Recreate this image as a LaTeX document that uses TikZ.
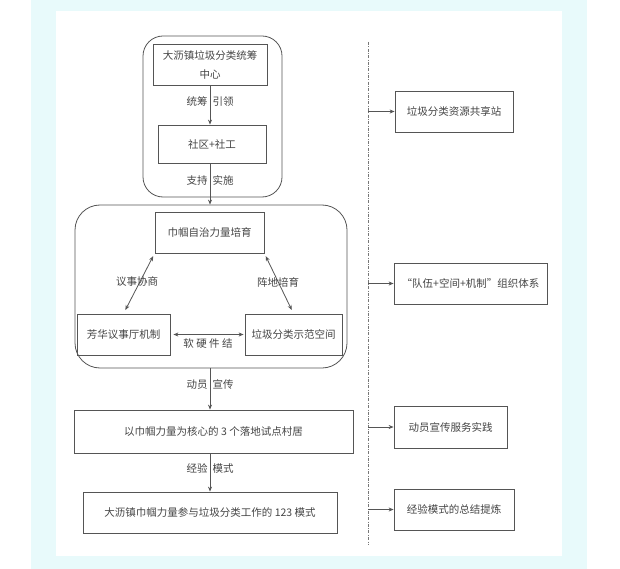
\documentclass[tikz,border=0pt]{standalone}
\usepackage{fontspec}
\setmainfont{Noto Sans CJK SC}
\usetikzlibrary{arrows.meta,calc}
\definecolor{edge}{HTML}{555555}
\definecolor{ink}{HTML}{444444}
\definecolor{sky}{HTML}{E8FAFB}

\begin{document}
\begin{tikzpicture}[x=1pt,y=-1pt,
 box/.style={draw=edge,line width=.8pt,minimum height=41,inner sep=0,align=center,text=ink,font=\fontsize{10.5}{19}\selectfont},
 group/.style={draw=edge,line width=.8pt,inner sep=0,rounded corners=20pt},
 lab/.style={text=ink,inner sep=1pt,font=\fontsize{10.5}{12}\selectfont},
 arr/.style={draw=edge,line width=.8pt,-{Stealth[length=5pt,width=4pt]}},
 dbl/.style={draw=edge,line width=.8pt,{Stealth[length=5pt,width=4pt]}-{Stealth[length=5pt,width=4pt]}}]
 \useasboundingbox (0,0) rectangle (620,569);
 \fill[white] (0,0) rectangle (620,569);
 \fill[sky] (31,0) rectangle (587,569);
 \fill[white] (56,11) rectangle (562,556);

 \node[group,minimum width=139,minimum height=161] (grp1) at (212.5,116.5) {};
 \node[box,minimum width=114] (hub) at (210,65) {大沥镇垃圾分类统筹\\中心};
 \node[box,minimum width=108,minimum height=38] (sq) at (212,144) {社区+社工};
 \node[group,minimum width=272,minimum height=163,rounded corners=25pt] (grp2) at (211,286.5) {};
 \node[box,minimum width=109] (cult) at (209.5,232.5) {巾帼自治力量培育};
 \node[box,minimum width=93] (fh) at (123.5,334.5) {芳华议事厅机制};
 \node[box,minimum width=97] (demo) at (293.5,334.5) {垃圾分类示范空间};
 \node[box,minimum width=279,minimum height=43] (vil) at (213.5,431.5) {以巾帼力量为核心的 3 个落地试点村居};
 \node[box,minimum width=254] (mode) at (210,512.5) {大沥镇巾帼力量参与垃圾分类工作的 123 模式};

 \draw[arr] (hub.south) -- (hub.south |- sq.north);
 \draw[arr] (sq.south -| hub.south) -- (hub.south |- grp2.north);
 \draw[arr] (grp2.south -| hub.south) -- (hub.south |- vil.north);
 \draw[arr] (vil.south -| hub.south) -- (hub.south |- mode.north);
 \node[lab] (l1) at (210,102) {统筹\hspace{5pt}引领};
 \node[lab] (l2) at (210,180) {支持\hspace{5pt}实施};
 \node[lab] (l5) at (210,385) {动员\hspace{5pt}宣传};
 \node[lab] (l6) at (210,468) {经验\hspace{5pt}模式};

 \draw[dbl,shorten <=3pt,shorten >=4pt] (cult.south west) -- (fh.north);
 \draw[dbl,shorten <=3pt,shorten >=4pt] (cult.south east) -- (demo.north);
 \draw[dbl,shorten <=3pt,shorten >=1pt] (fh.east) -- (demo.west);
 \node[lab] (l3) at (137,282) {议事协商};
 \node[lab] (l4) at (278,282) {阵地培育};
 \node[lab] (l7) at (208,344) {软 硬 件 结};

 \coordinate (septop) at (368,42);
 \coordinate (sepbot) at (368,545);
 \draw[edge!80,line width=.6pt,dash pattern=on 3pt off 1.5pt on .6pt off 1.5pt] (septop) -- (sepbot);
 \node[box,minimum width=118] (r1) at (454,111.5) {垃圾分类资源共享站};
 \node[box,minimum width=153] (r2) at (470.5,283.5) {“队伍+空间+机制”组织体系};
 \node[box,minimum width=113,minimum height=42] (r3) at (450.5,427) {动员宣传服务实践};
 \node[box,minimum width=120] (r4) at (454,509.5) {经验模式的总结提炼};
 \foreach \n in {r1,r2,r3,r4} \draw[arr] (\n.west -| septop) -- (\n.west);
\end{tikzpicture}
\end{document}
